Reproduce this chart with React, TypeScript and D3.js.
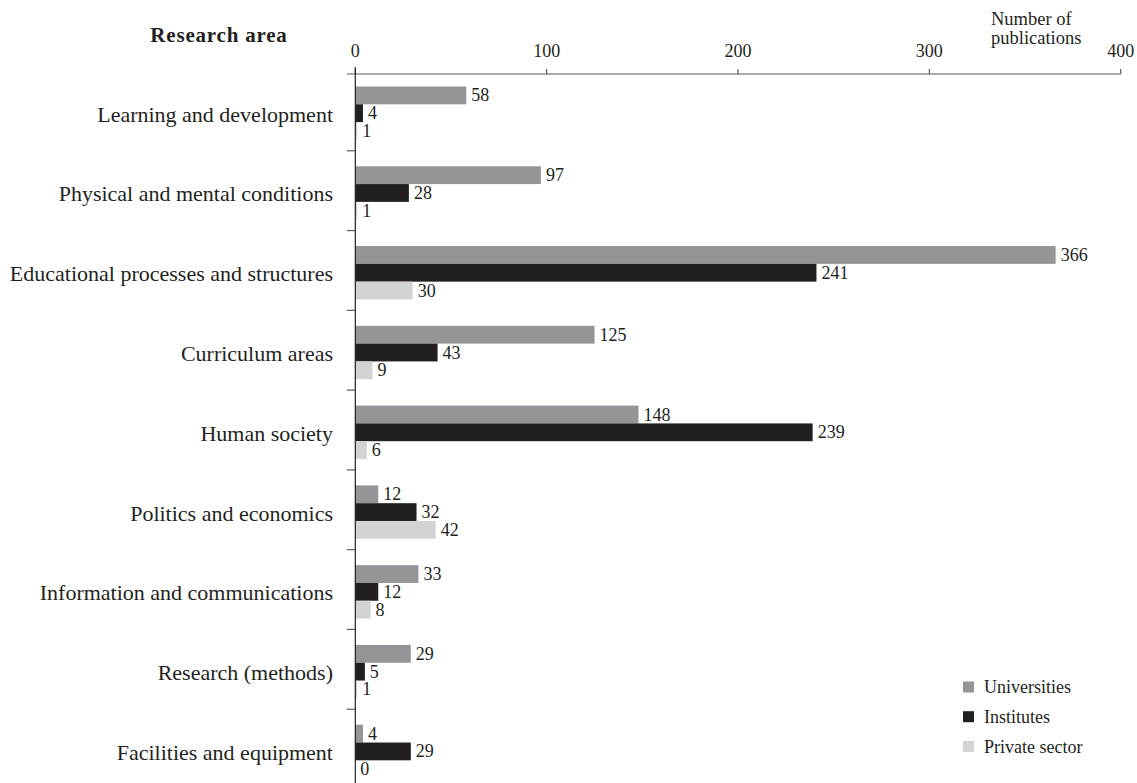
import React from 'react';
import * as d3 from 'd3';

const categories = [
  'Learning and development',
  'Physical and mental conditions',
  'Educational processes and structures',
  'Curriculum areas',
  'Human society',
  'Politics and economics',
  'Information and communications',
  'Research (methods)',
  'Facilities and equipment',
];
const seriesNames = ['Universities', 'Institutes', 'Private sector'];
const universities = [58, 97, 366, 125, 148, 12, 33, 29, 4];
const institutes = [4, 28, 241, 43, 239, 32, 12, 5, 29];
const privateSector = [1, 1, 30, 9, 6, 42, 8, 1, 0];
const xTicks = [0, 100, 200, 300, 400];
const colors = ['#939598', '#231f20', '#d1d3d4'];

const FONT = '"Liberation Serif", "Times New Roman", serif';
const TEXT = '#231f20';

export default function App() {
  const W = 1137;
  const H = 783;
  const x = d3.scaleLinear().domain([0, 400]).range([355.3, 1120.7]);
  const y = d3.scaleBand<string>().domain(categories).range([71, 789]);
  const inner = d3.scaleBand<string>().domain(seriesNames).range([15.5, 15.5 + 53.4]);
  const series = [universities, institutes, privateSector];
  const axisY = 74;

  const boundaries = categories.slice(1).map((c) => y(c) as number);

  return (
    <svg width={W} height={H} style={{ position: 'absolute', left: 0, top: 0 }} fontFamily={FONT}>
      {/* title */}
      <text x={219} y={42} textAnchor="middle" fontSize={21} fontWeight="bold" letterSpacing={0.8} fill={TEXT}>
        Research area
      </text>
      <text x={991} y={25} fontSize={18.5} fill={TEXT}>Number of</text>
      <text x={991} y={43.5} fontSize={18.5} fill={TEXT}>publications</text>

      {/* bars */}
      {categories.map((c, i) => (
        <g key={c} transform={`translate(0,${y(c)})`}>
          {series.map((s, j) => {
            const v = s[i];
            const by = inner(seriesNames[j]) as number;
            const bh = inner.bandwidth();
            return (
              <g key={j}>
                <rect x={x(0)} y={by} width={x(v) - x(0)} height={bh} fill={colors[j]} />
                <text x={x(v) + 5} y={by + bh / 2 + 6} fontSize={18} fill={TEXT}>
                  {v}
                </text>
              </g>
            );
          })}
          <text
            x={333}
            y={(inner(seriesNames[1]) as number) + inner.bandwidth() / 2 + 8.5}
            textAnchor="end"
            fontSize={22}
            fill={TEXT}
          >
            {c}
          </text>
        </g>
      ))}

      {/* x axis */}
      <line x1={347} x2={x(400)} y1={axisY} y2={axisY} stroke="#58595b" strokeWidth={1.2} />
      {xTicks.map((t) => (
        <g key={t}>
          <line x1={x(t)} x2={x(t)} y1={axisY} y2={axisY - 5} stroke="#58595b" strokeWidth={1.2} />
          <text x={x(t)} y={57} textAnchor="middle" fontSize={18} fill={TEXT}>
            {t}
          </text>
        </g>
      ))}

      {/* y axis */}
      <line x1={x(0)} x2={x(0)} y1={67} y2={H} stroke={TEXT} strokeWidth={1.2} />
      {boundaries.map((b, i) => (
        <line key={i} x1={x(0) - 8.5} x2={x(0)} y1={b} y2={b} stroke="#58595b" strokeWidth={1.2} />
      ))}

      {/* legend */}
      {seriesNames.map((n, j) => (
        <g key={n} transform={`translate(963,${681.5 + j * 29.7})`}>
          <rect x={0} y={0} width={11} height={11} fill={colors[j]} />
          <text x={21} y={11.8} fontSize={18} fill={TEXT}>
            {n}
          </text>
        </g>
      ))}
    </svg>
  );
}
